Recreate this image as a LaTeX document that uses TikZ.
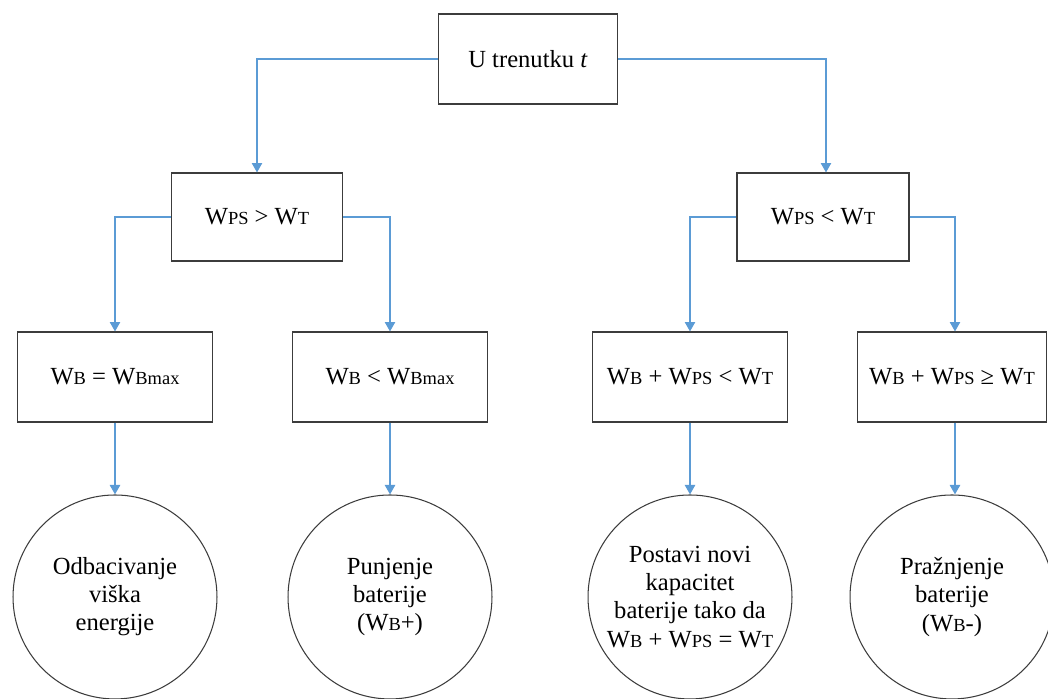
\documentclass[tikz,border=0pt]{standalone}
\usepackage{fontspec}
\setmainfont{Liberation Serif}
\usetikzlibrary{arrows.meta}

\definecolor{lineblue}{RGB}{91,155,213}
\definecolor{boxgray}{RGB}{60,60,60}

\newcommand{\ix}[1]{{\fontsize{10.5}{12}\selectfont #1}}

\tikzstyle{block} = [draw, rectangle, minimum height=1.8cm, minimum width=3.9cm]
\tikzstyle{result} = [draw, circle, minimum size=4.08cm, inner sep=0pt, align=center]

\begin{document}
\begin{tikzpicture} [x=0.02cm, y=-0.02cm, node distance=4.4cm,
                     >={Triangle[width=5.8pt,length=5.4pt]}]

\def\colL{lineblue}
\def\colB{boxgray}

\useasboundingbox (0,0) rectangle (1048,698);

\fontsize{14}{16}\selectfont

% start
\node[block,draw=\colB,line width=0.6pt,
      minimum width=3.58cm]
      (start) at (528,59) {U trenutku \textit{t}};

% first split
\node[block,draw=\colB,line width=0.6pt,
      minimum width=3.42cm,minimum height=1.76cm]
      (more) at (257,217) {W\ix{PS} > W\ix{T}};

\node[block,draw=\colB,line width=0.6pt,
      minimum width=3.44cm,minimum height=1.76cm]
      (less) at (823,217) {W\ix{PS} < W\ix{T}};

% second split
\node[block,draw=\colB,line width=0.6pt]
      (full) at (115,377) {W\ix{B} = W\ix{Bmax}};

\node[block,draw=\colB,line width=0.6pt]
      (notfull) at (390,377) {W\ix{B} < W\ix{Bmax}};

\node[block,draw=\colB,line width=0.6pt]
      (short) at (690,377) {W\ix{B} + W\ix{PS} < W\ix{T}};

\node[block,draw=\colB,line width=0.6pt,
      minimum width=3.78cm]
      (enough) at (952,377) {W\ix{B} + W\ix{PS} ≥\ W\ix{T}};

% actions
\node[result,draw=\colB,line width=0.6pt,
      below of=full]
      (dump) {Odbacivanje\\viška\\energije};

\node[result,draw=\colB,line width=0.6pt,
      below of=notfull]
      (charge) {Punjenje\\baterije\\(W\ix{B}+)};

\node[result,draw=\colB,line width=0.6pt,
      below of=short]
      (resize) {Postavi novi\\kapacitet\\baterije tako da\\W\ix{B} + W\ix{PS} = W\ix{T}};

\node[result,draw=\colB,line width=0.6pt,
      below of=enough]
      (discharge) {Pražnjenje\\baterije\\(W\ix{B}-)};

\draw[->,\colL,line width=1.1pt]
     (start.west) -| (more.north);

\draw[->,\colL,line width=1.1pt]
     (start.east) -| ([xshift=1.7pt]less.north);

\draw[->,\colL,line width=1.1pt]
     (more.west) -| (full.north);

\draw[->,\colL,line width=1.1pt]
     (more.east) -| (notfull.north);

\draw[->,\colL,line width=1.1pt]
     (less.west) -| (short.north);

\draw[->,\colL,line width=1.1pt]
     (less.east) -| ([xshift=1.7pt]enough.north);

\draw[->,\colL,line width=1.1pt]
     (full.south) -- (dump.north);

\draw[->,\colL,line width=1.1pt]
     (notfull.south) -- (charge.north);

\draw[->,\colL,line width=1.1pt]
     (short.south) -- (resize.north);

\draw[->,\colL,line width=1.1pt]
     ([xshift=1.7pt]enough.south) -- ([xshift=1.7pt]discharge.north);

\end{tikzpicture}
\end{document}
